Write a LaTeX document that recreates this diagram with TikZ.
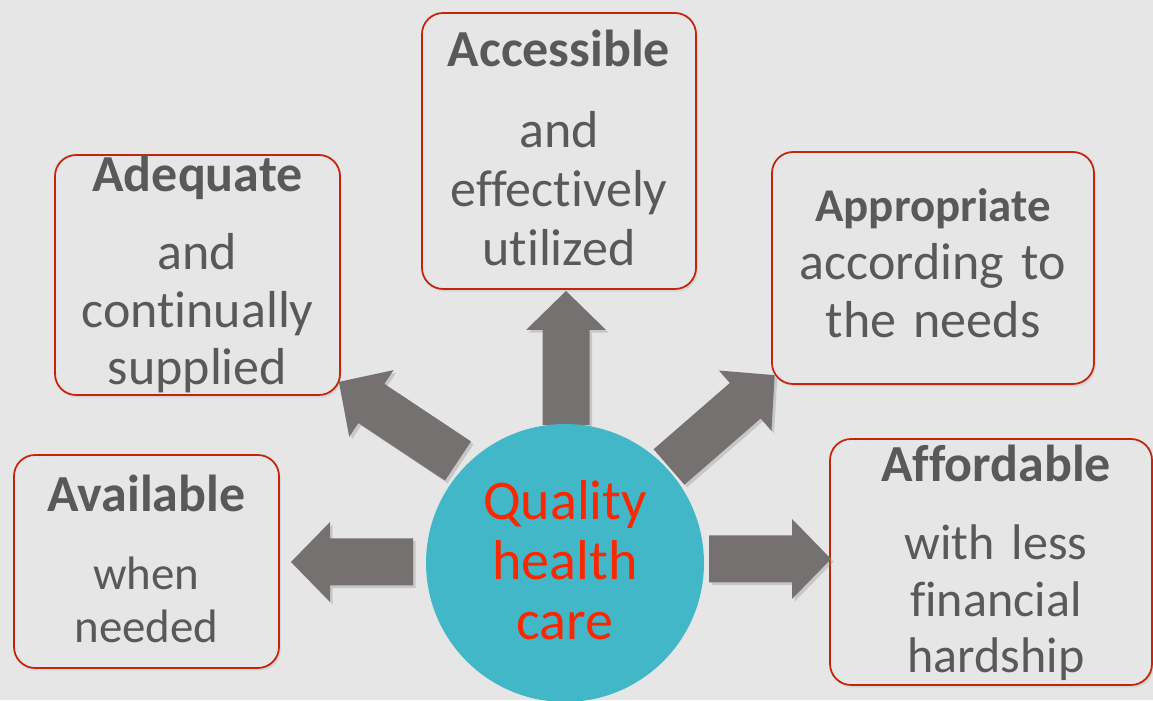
\documentclass[tikz,border=0pt]{standalone}
\usepackage{fontspec}
\setmainfont{Carlito}[Ligatures=NoCommon]
\usetikzlibrary{fit,shadows}

\definecolor{bggray}{RGB}{230,230,230}
\definecolor{boxred}{RGB}{196,36,12}
\definecolor{txtgray}{RGB}{89,89,89}
\definecolor{arrowgray}{RGB}{118,113,113}
\definecolor{hubteal}{RGB}{66,183,200}
\definecolor{hubred}{RGB}{250,40,0}

\tikzset{
	box/.style={draw=boxred, line width=1pt, rounded corners=12pt, fill=bggray, inner sep=0pt,
		drop shadow={shadow xshift=1pt, shadow yshift=-1.5pt, opacity=0.15}},
	title/.style={font=\bfseries\fontsize{29.6}{33}\selectfont, text=txtgray, anchor=base, inner sep=0pt},
	body/.style={text=txtgray, text width=6cm, align=center, anchor=base, inner sep=0pt},
	bigarrow/.style={fill=arrowgray, drop shadow={shadow xshift=1.5pt, shadow yshift=-1.5pt, opacity=0.3}},
}

\begin{document}
\begin{tikzpicture}[x=0.02cm, y=0.02cm]
	\useasboundingbox (0,0) rectangle (1153,700);
	\fill[bggray] (0,0) rectangle (1153,700);

	% frames
	\node[box, fit={(422,411) (696,687)}] (acc) {};
	\node[box, fit={(55,305) (340,545)}] (adq) {};
	\node[box, fit={(772,316) (1094,548)}] (app) {};
	\node[box, fit={(14,32) (279,245)}] (avl) {};
	\node[box, fit={(830,15) (1152,261)}] (aff) {};

	% block arrows: tail x / tail y / angle / length
	\foreach \x/\y/\a/\len in {413/138/180/122, 709/141/0/122, 566/275/90/134, 458/239/146.4/143, 669/233/41/140}{
			\fill[bigarrow, shift={(\x,\y)}, rotate=\a] (0,-23.5) -- (\len-39,-23.5) -- (\len-39,-40)
				-- (\len,0) -- (\len-39,40) -- (\len-39,23.5) -- (0,23.5) -- cycle;
		}

	% centre
	\node[circle, fill=hubteal, minimum size=5.56cm, inner sep=0pt] (hub) at (565,137) {};
	\node[text=hubred, text width=6cm, align=center, anchor=base, inner sep=0pt,
		font=\fontsize{31.9}{34.1}\selectfont] (hubtext) at (565,180) {Quality\\health\\care};

	% labels
	\node[title] (acct) at (559,633) {Accessible};
	\node[body, font=\fontsize{29.6}{33.3}\selectfont] (accb) at (559,552) {and\\effectively\\utilized};

	\node[title] (adqt) at (197.5,508) {Adequate};
	\node[body, font=\fontsize{29.6}{32.7}\selectfont] (adqb) at (197.5,430) {and\\continually\\supplied};

	\node[title, font=\bfseries\fontsize{26.7}{30}\selectfont] (appt) at (933,478) {Appropriate};
	\node[body, font=\fontsize{29.6}{33}\selectfont] (appb) at (933,420) {according to\\the needs};

	\node[title] (avlt) at (146.5,188) {Available};
	\node[body, font=\fontsize{26.7}{29.6}\selectfont] (avlb) at (146.5,110) {when\\needed};

	\node[title] (afft) at (996,218) {Affordable};
	\node[body, font=\fontsize{28.5}{31.9}\selectfont] (affb) at (996,140) {with less\\financial\\hardship};
\end{tikzpicture}
\end{document}
